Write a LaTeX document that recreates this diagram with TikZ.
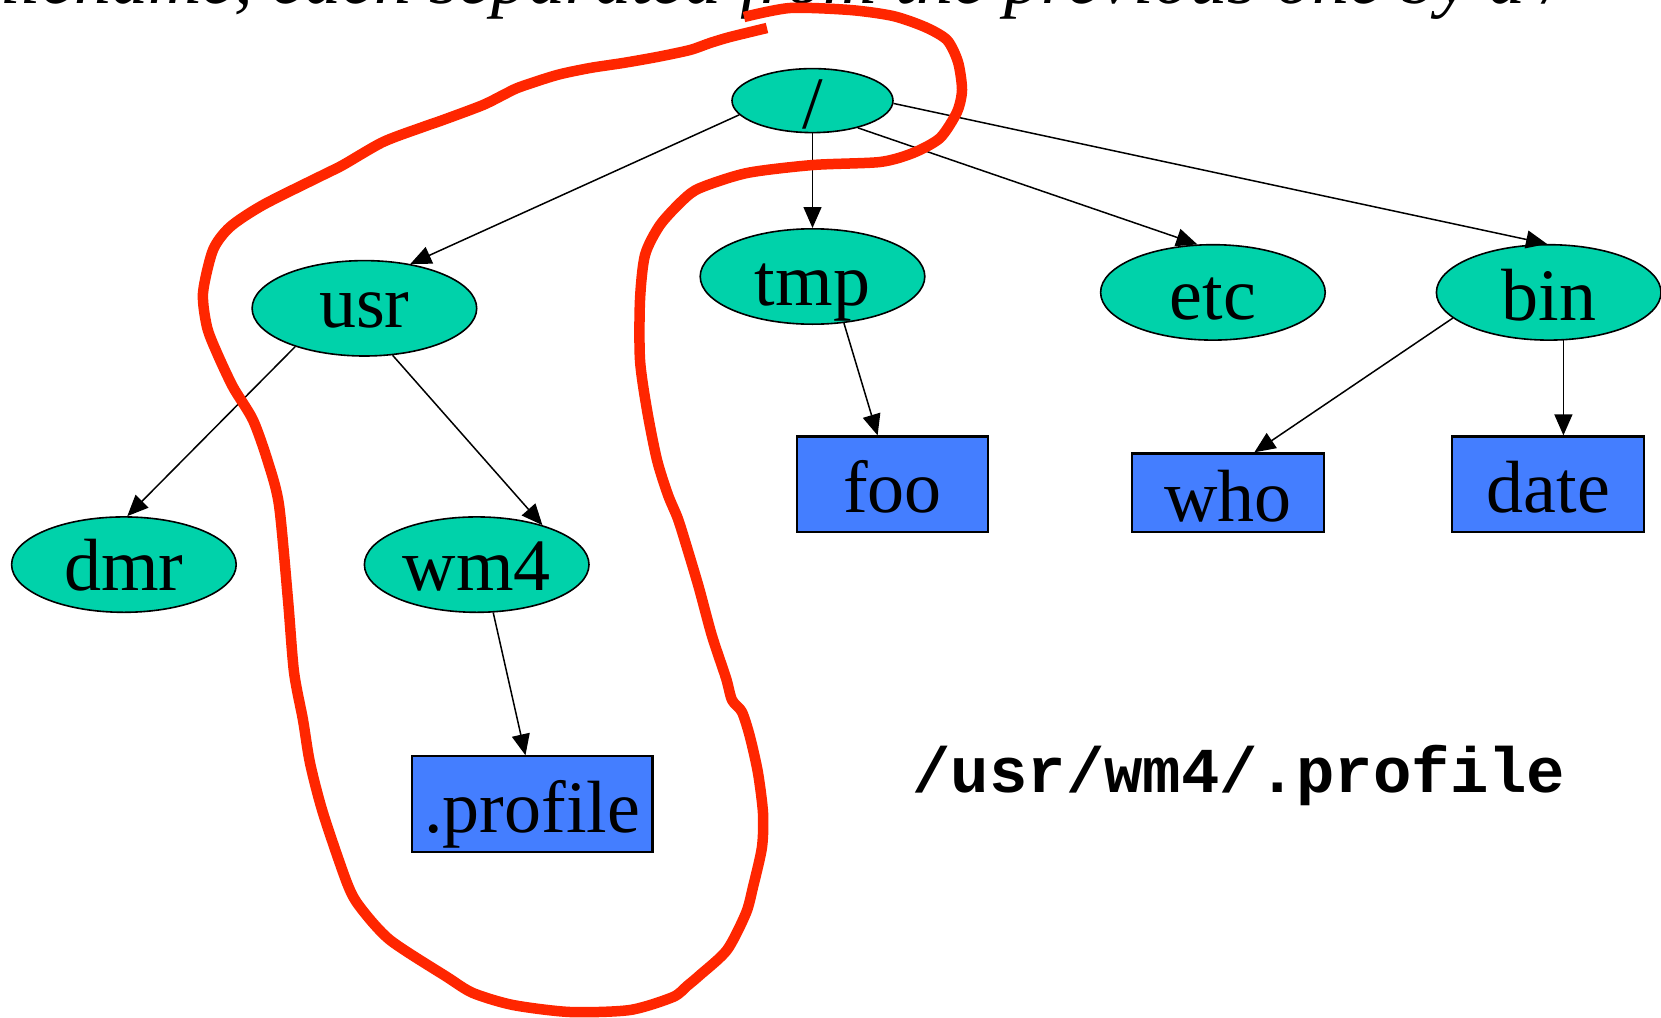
\documentclass[tikz,border=0pt]{standalone}
\usepackage{fontspec}
\setmainfont{Liberation Serif}
\newfontfamily\codefont{Liberation Mono}
\usetikzlibrary{shapes.geometric,arrows.meta}
\definecolor{dirfill}{RGB}{0,210,170}
\definecolor{filefill}{RGB}{68,126,255}
\definecolor{tracered}{RGB}{255,38,0}

\begin{document}
\begin{tikzpicture}[x=1pt,y=-1pt,
  dirnode/.style={ellipse, draw=black, line width=1.6pt, fill=dirfill,
    minimum width=224.6pt, minimum height=95.4pt, inner sep=0pt},
  rootnode/.style={dirnode, minimum width=161pt, minimum height=64pt},
  filenode/.style={rectangle, draw=black, line width=2.2pt, fill=filefill,
    minimum width=191.7pt, minimum height=95.3pt, inner sep=0pt},
  lbl/.style={anchor=base, inner sep=0pt, font=\fontsize{74}{80}\selectfont},
  link/.style={line width=1.5pt, draw=black,
    -{Triangle[length=21pt,width=18pt]}},
  trace/.style={draw=tracered, line width=10.5pt, line join=round}
]
\useasboundingbox (0,0) rectangle (1661,1017);

% heading line, cut by the top edge
\begin{scope}
  \clip (0,0) rectangle (1661,1017);
  \node[anchor=base west, inner sep=0pt,
    font=\fontsize{74}{80}\selectfont\itshape] (heading) at (-20.6,3)
    {filename, each separated from the previous one by a /};
\end{scope}

% directories
\node[rootnode] (root) at (812.5,100.6) {};
\node[dirnode] (usr) at (364.4,308.3) {};
\node[dirnode] (tmp) at (812.5,276.5) {};
\node[dirnode] (etc) at (1212.9,292.4) {};
\node[dirnode] (bin) at (1548.7,292.4) {};
\node[dirnode] (dmr) at (123.9,564.6) {};
\node[dirnode] (wm4) at (476.7,564.6) {};

% plain files
\node[filenode] (foo) at (892.5,484.1) {};
\node[filenode, minimum height=78.4pt] (who) at (1228.2,492.6) {};
\node[filenode] (date) at (1548.2,484.1) {};
\node[filenode, minimum width=240.5pt] (profile) at (532.3,804) {};

% names
\node[lbl] (root-t) at (812.5,128.3) {/};
\node[lbl] (usr-t) at (364.4,327) {usr};
\node[lbl] (tmp-t) at (812.5,305) {tmp};
\node[lbl] (etc-t) at (1212.9,319) {etc};
\node[lbl] (bin-t) at (1548.7,320) {bin};
\node[lbl] (dmr-t) at (123.9,590) {dmr};
\node[lbl] (wm4-t) at (476.7,590) {wm4};
\node[lbl] (foo-t) at (892.5,512.7) {foo};
\node[lbl] (who-t) at (1228.2,521) {who};
\node[lbl] (date-t) at (1548.2,512.7) {date};
\node[lbl] (profile-t) at (532.3,832.6) {.profile};

% tree edges
\draw[link] (root.191) -- (usr.44);
\draw[link] (root.south) -- (tmp.north);
\draw[link] (root.-31.4) -- (etc.108.8);
\draw[link] (root.-2.3) -- (bin.92.6);
\draw[link] (usr.209.3) -- (dmr.86.2);
\draw[link] (usr.-59) -- (wm4.31.8);
\draw[link] (tmp.-56.3) -- (foo.107.9);
\draw[link] (bin.195.1) -- (who.57.5);
\draw[link] (bin.-73) -- (bin.-73 |- date.north);
\draw[link] (wm4.-71.6) -- (profile.98.2);

% path name
\node[anchor=base, inner sep=0pt,
  font=\fontsize{64}{70}\selectfont\codefont\bfseries] (pathname) at (1239,792)
  {/usr/wm4/.profile};

% hand-drawn loop round the path
\draw[trace] plot[smooth, tension=0.45] coordinates {
  (744,17) (790,8) (850,10) (893,16) (925,27) (947,40) (958,62) (962,90)
  (957,112) (940,138) (913,153) (880,162) (813,165) (747,173) (700,188)
  (683,200) (660,225) (645,255) (640,300) (640,360) (647,410) (657,460)
  (668,495) (678,519) (688,551) (699,588) (712,636) (726,678) (732,700)
  (742,712) (750,737) (758,773) (763,813) (762,847) (753,887) (746,913)
  (727,950) (700,975) (687,986) (673,997) (630,1010) (570,1012) (513,1005)
  (473,993) (447,977) (390,940) (360,907) (347,883) (323,813) (310,763)
  (303,720) (294,672) (288,600) (279,505) (268,462) (253,420) (233,387)
  (217,353) (207,327) (203,293) (213,250) (230,227) (263,205) (323,175)
  (343,165) (383,142) (423,127) (443,120) (483,105) (507,93) (520,87)
  (557,75) (590,68) (623,63) (657,57) (690,50) (710,43) (730,37) (767,28)};
\end{tikzpicture}
\end{document}
